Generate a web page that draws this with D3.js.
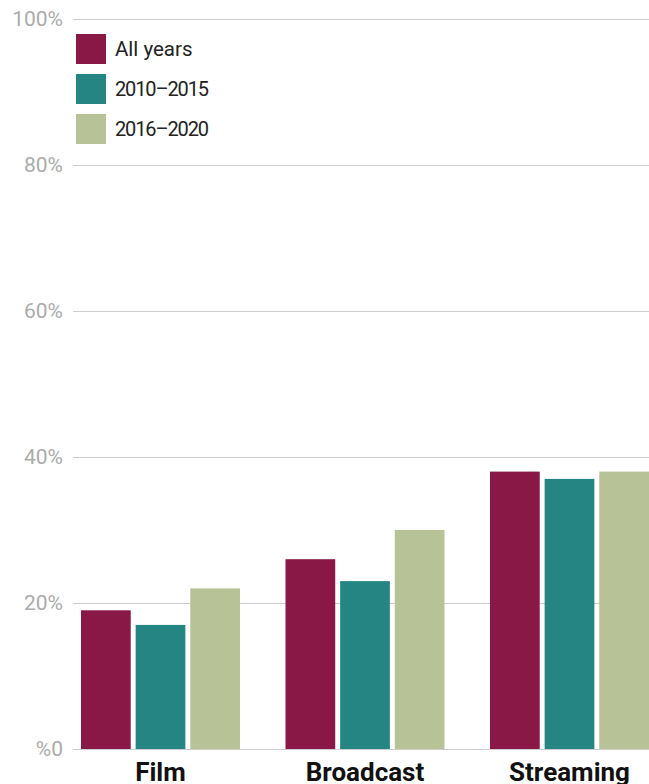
<!DOCTYPE html>
<html><head><meta charset="utf-8">
<script src="https://cdn.jsdelivr.net/npm/d3@7"></script>
<style>html,body{margin:0;padding:0;background:#fff;overflow:hidden}</style>
</head><body>
<svg id="c" width="649" height="784"></svg>
<script>
const categories = ["Film", "Broadcast", "Streaming"];
const seriesNames = ["All years", "2010–2015", "2016–2020"];
const allYears = [19, 26, 38];
const y2010_2015 = [17, 23, 37];
const y2016_2020 = [22, 30, 38];
const yTicks = [0, 20, 40, 60, 80, 100];
const yTickLabels = ["%0", "20%", "40%", "60%", "80%", "100%"];
const colors = ["#8a1846", "#258582", "#b7c297"];

const seriesValues = [allYears, y2010_2015, y2016_2020];
const svg = d3.select("#c");
const font = "Roboto, 'Noto Sans', sans-serif";

const y = d3.scaleLinear().domain([0, 100]).range([749, 19]);
const x0 = d3.scaleBand().domain(categories).range([81, 649]).paddingInner(0.2225).paddingOuter(0);
const x1 = d3.scaleBand().domain(seriesNames).range([0, x0.bandwidth()]).paddingInner(0.09);

const yAxis = d3.axisLeft(y).tickValues(yTicks).tickSize(-(649 - 73)).tickFormat((d, i) => yTickLabels[i]);
const ga = svg.append("g").attr("transform", "translate(73,0)").call(yAxis);
ga.select(".domain").remove();
ga.selectAll(".tick line").attr("stroke", "#cccccc").attr("stroke-width", 1);
ga.selectAll(".tick text").attr("x", -10).attr("fill", "#ababab").style("font-family", font).style("font-size", "21px");

const groups = svg.append("g").selectAll("g").data(categories).join("g")
  .attr("transform", c => `translate(${x0(c)},0)`);
groups.selectAll("rect").data((c, ci) => seriesNames.map((s, si) => ({s, si, v: seriesValues[si][ci]})))
  .join("rect")
  .attr("x", d => x1(d.s))
  .attr("width", x1.bandwidth())
  .attr("y", d => y(d.v))
  .attr("height", d => y(0) - y(d.v))
  .attr("fill", d => colors[d.si]);

svg.append("g").selectAll("text").data(categories).join("text")
  .attr("x", c => x0(c) + x0.bandwidth() / 2)
  .attr("y", 781)
  .attr("text-anchor", "middle")
  .style("font-family", font).style("font-weight", "bold").style("font-size", "26px")
  .attr("fill", "#111")
  .text(c => c);

const lg = svg.append("g").selectAll("g").data(seriesNames).join("g")
  .attr("transform", (d, i) => `translate(76,${34 + i * 40})`);
lg.append("rect").attr("width", 30).attr("height", 30).attr("fill", (d, i) => colors[i]);
lg.append("text").attr("x", 39).attr("y", 15).attr("dy", "0.35em")
  .style("font-family", font).style("font-size", (d, i) => i === 0 ? "20.5px" : "20px").attr("fill", "#222")
  .each(function(d, i) { if (i > 0) d3.select(this).attr("textLength", 94); })
  .text(d => d);
</script>
</body></html>
